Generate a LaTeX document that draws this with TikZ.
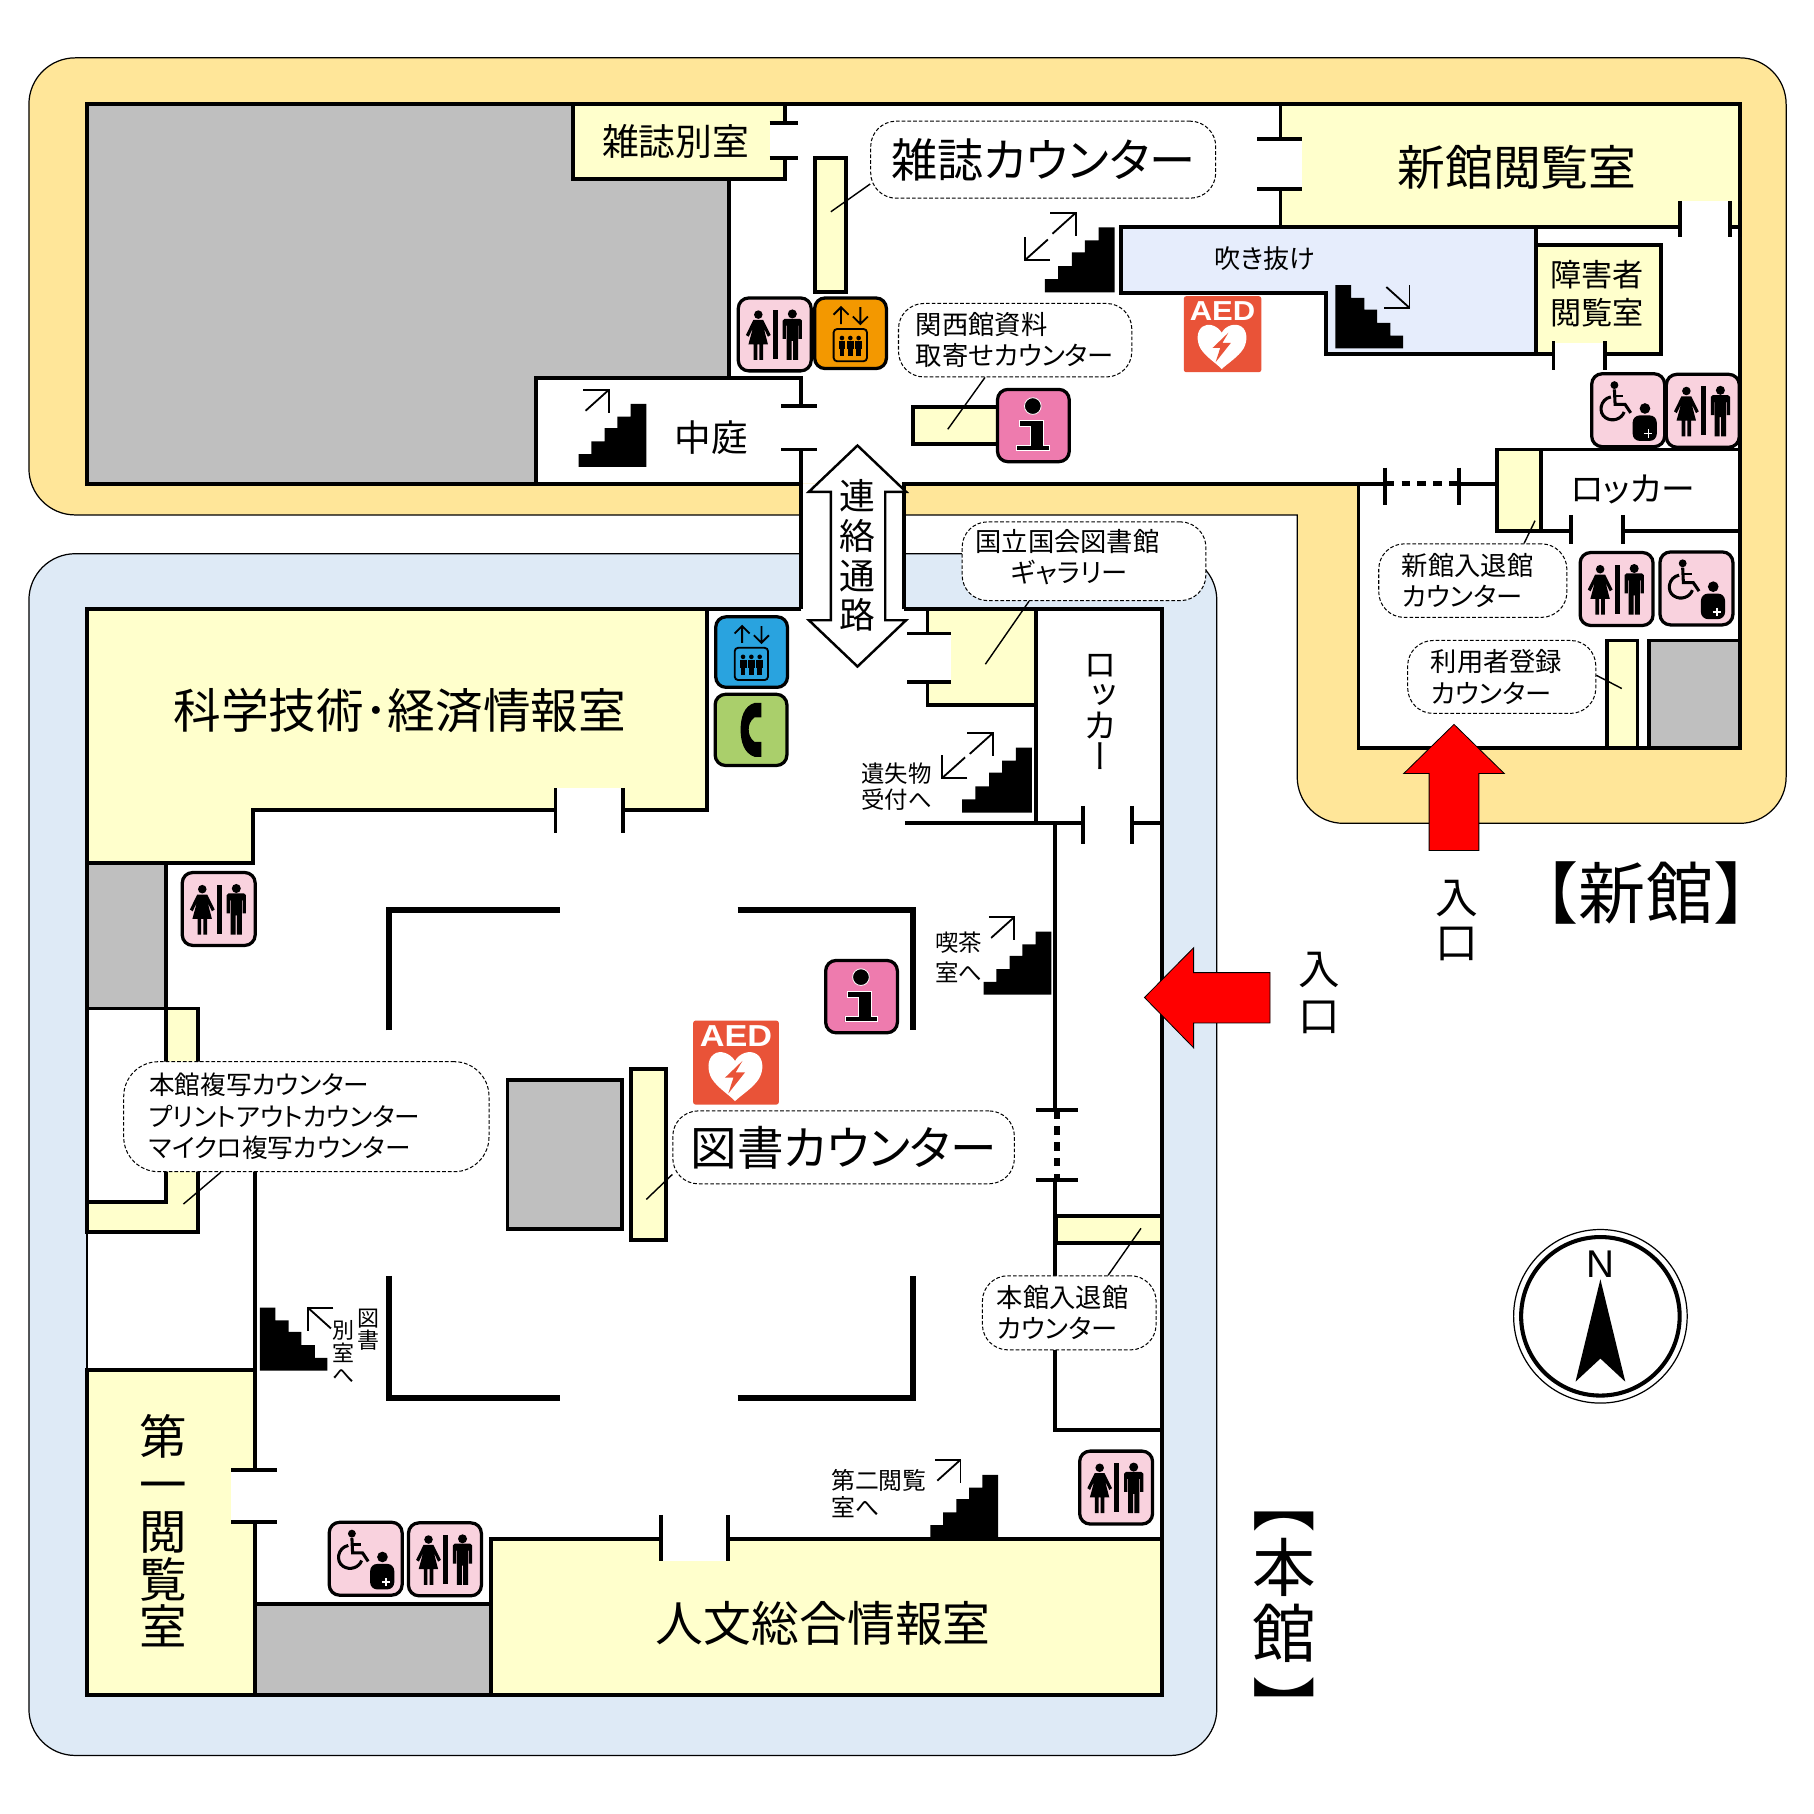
\documentclass[tikz,border=0pt]{standalone}
\usepackage{fontspec}
\setmainfont[RawFeature=+palt]{Noto Sans CJK JP}
\newfontfamily\vertfont[RawFeature=+vert]{Noto Sans CJK JP}
\newfontfamily\plainfont{Noto Sans CJK JP}
\newfontfamily\latfont{Liberation Sans}
\newcommand{\fsz}[2]{\fontsize{#1}{#2}\selectfont}
\definecolor{newbg}{HTML}{FFE699}
\definecolor{mainbg}{HTML}{DEEAF6}
\definecolor{roomyellow}{HTML}{FFFFCC}
\definecolor{blockgray}{HTML}{BFBFBF}
\definecolor{voidblue}{HTML}{E6EDFC}
\definecolor{wcpink}{HTML}{F9D2DE}
\definecolor{infopink}{HTML}{EE7BAE}
\definecolor{liftorange}{HTML}{F39800}
\definecolor{liftblue}{HTML}{29A3DF}
\definecolor{phonegreen}{HTML}{AACF6B}
\definecolor{aedred}{HTML}{E95338}
\tikzset{
    bgline/.style={draw=black, line width=0.3pt},
    wall/.style={line width=0.95pt, line join=miter},
    thinwall/.style={line width=0.45pt},
    hallwall/.style={line width=1.4pt, line join=miter},
    room/.style={draw, line width=0.95pt, fill=roomyellow},
    gone/.style={line width=1.3pt, dash pattern=on 2.1pt off 1.8pt},
    thinarrow/.style={line width=0.45pt},
    note/.style={draw, fill=white, line width=0.25pt, dash pattern=on 0.9pt off 0.5pt, rounded corners=0.22cm, inner ysep=0pt},
    leader/.style={line width=0.35pt},
    lbl/.style={inner sep=0pt},
    iconbox/.style={draw, line width=0.8pt, rounded corners=0.09cm},
    redarrow/.style={draw=black, line width=0.2pt, fill=red},
    pics/stairsicon/.style={code={
        \fill (0,54.5) -- (0,43.5) -- (11,43.5) -- (11,32.5) -- (22.5,32.5) -- (22.5,21) -- (33.5,21) -- (33.5,11) -- (45,11) -- (45,0) -- (58.5,0) -- (58.5,54.5) -- cycle;
    }},
    pics/goarrow/.style={code={
        \draw[thinarrow] (-22,0) -- (0,0) -- (0,20);
        \draw[thinarrow] (-20,18) -- (0,0);
    }},
    pics/wcicon/.style={code={
        \draw[iconbox, fill=wcpink] (0,0) rectangle (63,63);
        \fill (17.3,14.4) circle[radius=3.7];
        \fill (13,19) -- (21.5,19) -- (28,32) -- (25.6,33.5) -- (22,26) -- (25.6,40) -- (21.4,40) -- (21.4,53.6) -- (18.2,53.6) -- (18.2,40) -- (16.4,40) -- (16.4,53.6) -- (13.2,53.6) -- (13.2,40) -- (8.8,40) -- (12.6,26) -- (9,33.5) -- (6.6,32) -- cycle;
        \fill (30,10.4) rectangle (34,52.8);
        \fill (46.7,13.8) circle[radius=3.9];
        \fill (40,18) -- (53.3,18) -- (55,19.5) -- (55,35.3) -- (52.2,35.3) -- (52.2,24) -- (51.6,24) -- (51.6,53.6) -- (47.3,53.6) -- (47.3,37) -- (46.1,37) -- (46.1,53.6) -- (41.8,53.6) -- (41.8,24) -- (41.2,24) -- (41.2,35.3) -- (38.4,35.3) -- (38.4,19.5) -- cycle;
    }},
    pics/accessicon/.style={code={
        \draw[iconbox, fill=wcpink] (0,0) rectangle (63,63);
        \fill (19.6,9.8) circle[radius=3.4];
        \draw[line width=0.75pt] (19.6,13.5) -- (20.2,26.5) -- (28.8,26.5) -- (33.7,33.8);
        \draw[line width=0.6pt] (19.6,19.2) -- (27.4,19.2);
        \draw[line width=0.75pt] (16.5,20) .. controls (7,22) and (5.5,34) .. (12,38) .. controls (18,42) and (26,39) .. (28,33);
        \fill (46,30) circle[radius=4.6];
        \fill[rounded corners=0.06cm] (35.4,58) -- (35.4,36) -- (56.2,36) -- (56.2,58) -- cycle;
        \draw[white, line width=0.45pt] (45.5,51.6) -- (52.5,51.6) (49,48.1) -- (49,55.1);
    }},
    pics/lifticon/.style={code={
        \draw[iconbox, fill=#1] (0,0) rectangle (62,61);
        \draw[thinarrow] (22.8,22.5) -- (22.8,8) (16.3,14.5) -- (22.8,8) -- (29.3,14.5);
        \draw[thinarrow] (39.5,8) -- (39.5,22.5) (33,16) -- (39.5,22.5) -- (46,16);
        \draw[thinarrow, rounded corners=0.03cm] (16.4,26.8) rectangle (45.2,54.7);
        \foreach \px in {23.6,30.8,38} {
            \fill (\px,34.6) circle[radius=2];
            \fill (\px-3,37) rectangle (\px+3,44);
            \fill (\px-2,44) rectangle (\px+2,50);
        }
    }},
    pics/infoicon/.style={code={
        \draw[iconbox, fill=infopink] (0,0) rectangle (62,62.5);
        \draw[white, line width=0.2pt, fill=black] (30.5,14.4) circle[radius=7.2];
        \draw[white, line width=0.2pt, fill=black] (19,26.5) -- (39.3,26.5) -- (39.3,48.2) -- (45,48.2) -- (45,53) -- (16.7,53) -- (16.7,48.2) -- (28.4,48.2) -- (28.4,32) -- (19,32) -- cycle;
    }},
    pics/phoneicon/.style={code={
        \draw[iconbox, fill=phonegreen] (0,0) rectangle (62,61.5);
        \fill (34,7.5) .. controls (25,10) and (22,20) .. (22,30.5) .. controls (22,41) and (25,51) .. (34,54) -- (40,54) -- (40,41) -- (34,41) .. controls (30,38) and (29,34) .. (29,30.5) .. controls (29,27) and (30,23) .. (34,20) -- (40,20) -- (40,7.5) -- cycle;
    }},
    pics/aedicon/.style={code={
        \fill[aedred, rounded corners=0.02cm] (0,0) rectangle (74,72.5);
        \node (-aedtext) [lbl, transform shape, xscale=1.13, text=white, font={\latfont\bfseries\fsz{7.45}{8}}] at (37,13.7) {AED};
        \fill[white] (36.2,34.8) .. controls (32,28) and (23,25) .. (18,29) .. controls (12,33) and (12,43) .. (16,50) .. controls (21,58) and (31,64) .. (36.2,69.5) .. controls (42,64) and (52,58) .. (57,50) .. controls (61,43) and (61,33) .. (55,29) .. controls (49,25) and (40,28) .. (36.2,34.8) -- cycle;
        \fill[aedred] (42.6,34.8) -- (27.5,49.3) -- (34.8,49.3) -- (30.4,62.9) -- (44.9,44.6) -- (36.8,44.6) -- cycle;
    }},
}

\begin{document}
\begin{tikzpicture}[x=0.01cm, y=-0.01cm]
            \useasboundingbox (0,0) rectangle (1567.6,1567.6);
            \fill[white] (0,0) rectangle (1567.6,1567.6);

            \path[bgline, fill=newbg] (500,445) [rounded corners=0.4cm] -- (25,445) -- (25,50) -- (1543.5,50) -- (1543.5,711.5) -- (1121,711.5) -- (1121,600) [sharp corners] -- (1121,445) -- cycle;
            \draw[bgline, fill=mainbg, rounded corners=0.4cm] (25,478.5) rectangle (1051.5,1517);

            \fill[white] (75,90) -- (1504,90) -- (1504,646.5) -- (1174,646.5) -- (1174,418) -- (75,418) -- cycle;
            \fill[white] (692.5,418) rectangle (781,526.5);
            \fill[white] (75,526.5) rectangle (1004.5,1465);

            \fill[blockgray] (75,90) -- (495,90) -- (495,155) -- (630,155) -- (630,326.5) -- (463,326.5) -- (463,418) -- (75,418) -- cycle;
            \draw[wall, fill=blockgray] (1425,553.5) rectangle (1504,646.5);
            \fill[blockgray] (75,746) rectangle (143.5,871.5);
            \fill[blockgray] (220.5,1386) rectangle (424,1465);

            \draw[room] (495,90) rectangle (678,155);
            \draw[room] (1106.5,90) rectangle (1504,196);
            \draw[room] (1327.5,212) rectangle (1435.5,306);
            \draw[room] (704,136.5) rectangle (731,252.5);
            \draw[room] (789,351.5) rectangle (862,384);
            \draw[room] (1294,388.5) rectangle (1331.5,459);
            \draw[room] (1389,553.5) rectangle (1415,646.5);
            \draw[room] (801.5,526.5) rectangle (895,609);
            \draw[room] (75,526.5) -- (611,526.5) -- (611,700) -- (219,700) -- (219,746) -- (75,746) -- cycle;
            \draw[room] (75,871.5) -- (171,871.5) -- (171,1065) -- (75,1065) -- cycle;
            \draw[wall, fill=white] (75,871.5) rectangle (143.5,1039);
            \draw[room] (75,1184) rectangle (220.5,1465);
            \draw[room] (424,1330) rectangle (1004.5,1465);
            \draw[room] (912.5,1050.5) rectangle (1004.5,1074);
            \draw[room] (545,924) rectangle (575.5,1071.5);
            \draw[wall, fill=blockgray] (438.5,933) rectangle (537.5,1062);
            \draw[wall, fill=voidblue] (969,196) -- (1327,196) -- (1327,306) -- (1146,306) -- (1146,253) -- (969,253) -- cycle;

            \draw[wall] (692.5,351) -- (692.5,326.5) -- (463,326.5) -- (463,418);
            \draw[wall] (692.5,388.5) -- (692.5,526.5);
            \draw[wall] (630,155) -- (630,326.5);
            \draw[wall] (692.5,418) -- (75,418) -- (75,90) -- (1504,90) -- (1504,646.5) -- (1174,646.5) -- (1174,418);
            \draw[wall] (781,526.5) -- (781,418) -- (1196.5,418);
            \draw[wall] (1260.5,418) -- (1294,418);
            \draw[gone] (1197.5,418) -- (1260,418);
            \draw[wall] (1331.5,388.5) -- (1504,388.5);
            \draw[wall] (1331.5,458.5) -- (1504,458.5);
            \draw[wall] (692.5,526.5) -- (75,526.5) -- (75,1065);
            \draw[thinwall] (75,1065) -- (75,1184);
            \draw[wall] (75,1184) -- (75,1465) -- (1004.5,1465) -- (1004.5,526.5) -- (781,526.5);
            \draw[wall] (143.5,746) -- (143.5,871.5);
            \draw[wall] (220.5,1000) -- (220.5,1184);
            \draw[wall] (220.5,1386) -- (424,1386);
            \draw[wall] (895,526.5) -- (895,711.5);
            \draw[wall] (782,711.5) -- (1004.5,711.5);
            \draw[wall] (912,711.5) -- (912,959);
            \draw[wall] (912,1020) -- (912,1235.5) -- (1004.5,1235.5);
            \draw[gone] (913.5,959.5) -- (913.5,1020);

            \fill[white] (665,107.5) rectangle (680,135.5);
            \fill[white] (1105,121.5) rectangle (1125.5,161.5);
            \fill[white] (1452.5,173.5) rectangle (1494,198);
            \fill[white] (1343.5,296) rectangle (1386,308);
            \fill[white] (800,549) rectangle (821.5,587.5);
            \fill[white] (200,1271.5) rectangle (222,1314);
            \fill[white] (481,681) rectangle (537.5,702);
            \fill[white] (572,1328) rectangle (628,1349);
            \fill[white] (1358.5,456) rectangle (1401.5,461);
            \fill[white] (937,709) rectangle (977,714);

            \foreach \xa/\xb/\yy in {665/690/106.5, 665/690/136.5, 675/706/351, 675/706/388.5, 1086.5/1125.5/120, 1086.5/1125.5/163, 784/821.5/547.5, 784/821.5/589, 200/239/1270, 200/239/1315.5, 895/931.5/959, 895/931.5/1020}
                \draw[wall] (\xa,\yy) -- (\xb,\yy);
            \foreach \xx/\ya/\yb in {1451.5/173.5/205, 1495/173.5/205, 1342.5/295/320, 1387/295/320, 1196.5/404/436, 1260.5/404/436, 1357.5/445/470, 1402.5/445/470, 936/696.5/729, 978/696.5/729, 480/681/720, 538.5/681/720, 571/1309/1349, 629/1309/1349}
                \draw[wall] (\xx,\ya) -- (\xx,\yb);

            \draw[hallwall] (336,890.5) -- (336,786.5) -- (484,786.5);
            \draw[hallwall] (637.5,786.5) -- (789,786.5) -- (789,890.5);
            \draw[hallwall] (336,1102.5) -- (336,1208) -- (484,1208);
            \draw[hallwall] (637.5,1208) -- (789,1208) -- (789,1102.5);

            \pic at (500,349) {stairsicon};
            \pic at (526,337) {goarrow};
            \pic[scale=1.03] at (903,196.5) {stairsicon};
            \pic at (929.5,184) {goarrow};
            \pic[xscale=-1, yscale=-1] at (885.5,225) {goarrow};
            \pic[xscale=-1] at (1212.5,246.5) {stairsicon};
            \pic[yscale=-1] at (1218,266) {goarrow};
            \pic[scale=1.03] at (831.5,646) {stairsicon};
            \pic at (858,633.5) {goarrow};
            \pic[xscale=-1, yscale=-1] at (814,672.5) {goarrow};
            \pic at (850,805) {stairsicon};
            \pic at (876.5,792.5) {goarrow};
            \pic at (804,1274.5) {stairsicon};
            \pic at (830,1261.5) {goarrow};
            \pic[xscale=-1] at (283,1130) {stairsicon};
            \pic[xscale=-1] at (266,1130) {goarrow};

            \foreach \ix/\iy in {638/257.5, 1440/323.5, 1365.5/477.5, 157.5/754, 353/1316, 933/1254}
                \pic at (\ix,\iy) {wcicon};
            \foreach \ix/\iy in {1375.5/323, 1434.5/477, 284.5/1315.5}
                \pic at (\ix,\iy) {accessicon};
            \pic at (704,257.5) {lifticon=liftorange};
            \pic at (618.5,533) {lifticon=liftblue};
            \pic at (618,600) {phoneicon};
            \pic at (862,336.5) {infoicon};
            \pic at (713.5,830) {infoicon};
            \pic (aednew) [scale=0.905] at (1023,256) {aedicon};
            \pic (aedmain) at (599,882) {aedicon};

            \node (magroom) [lbl, font=\fsz{9.05}{11}] at (584,122.5) {雑誌別室};
            \node (court) [lbl, font=\fsz{9}{10}] at (614.5,378) {中庭};
            \node (newread) [lbl, font=\fsz{11.75}{14}] at (1311,145) {新館閲覧室};
            \node (void) [lbl, font=\fsz{6.4}{8}] at (1093,223.5) {吹き抜け};
            \node (access) [lbl, align=left, font=\fsz{7.65}{9.35}] at (1380,253.5) {障害者\\閲覧室};
            \node (locknew) [lbl, font=\fsz{8.3}{9}] at (1411,423) {ロッカー};
            \node (scitech) [lbl, font=\fsz{11.7}{14}] at (345.5,614) {科学技術･経済情報室};
            \node (human) [lbl, font=\fsz{11.75}{14}] at (711.5,1403) {人文総合情報室};
            \node (firstread) [lbl, align=center, font={\vertfont\fsz{11.66}{11.66}}] at (141,1323) {第\\一\\閲\\覧\\室};
            \node (lockmain) [lbl, align=center, font={\vertfont\fsz{8.4}{7.5}}] at (951,615) {ロ\\ッ\\カ\\ー};
            \node (lostgo) [lbl, align=left, font=\fsz{5.75}{6.5}] at (775,680) {遺失物\\受付へ};
            \node (teago) [lbl, align=left, font=\fsz{5.75}{7.3}] at (828.5,827) {喫茶\\室へ};
            \node (secondgo) [lbl, align=left, font=\fsz{5.85}{6.6}] at (759.5,1291) {第二閲覧\\室へ};
            \node (bookgoa) [lbl, align=center, font={\vertfont\fsz{5.4}{5.4}}] at (318,1149) {図\\書};
            \node (bookgob) [lbl, align=center, font={\vertfont\fsz{5.4}{5.6}}] at (297,1168.5) {別\\室\\へ};

            \draw[line width=0.6pt, fill=white] (741,385) -- (783,425) -- (765,425) -- (765,536) -- (783,536) -- (741,576) -- (699,536) -- (718,536) -- (718,425) -- (699,425) -- cycle;
            \node (linkway) [lbl, align=center, font={\vertfont\fsz{8.8}{9.8}}] at (741,480) {連\\絡\\通\\路};

            \node (magdesk) [note, minimum width=2.98cm, minimum height=0.665cm, font=\fsz{11.35}{12}] at (901.5,138) {雑誌カウンター};
            \node (kansai) [note, minimum width=2.015cm, minimum height=0.635cm, text width=1.715cm, inner xsep=0.15cm, align=left, font=\fsz{6.46}{7.68}] at (877.25,294) {関西館資料\\取寄せカウンター};
            \node (gallery) [note, minimum width=2.105cm, minimum height=0.68cm, text width=1.875cm, inner xsep=0.115cm, align=left, font=\fsz{6.46}{7.68}] at (936.75,485) {国立国会図書館\\\hspace*{0.31cm}ギャラリー\rule[-0.095cm]{0pt}{0pt}};
            \node (newgate) [note, minimum width=1.625cm, minimum height=0.635cm, text width=1.225cm, inner xsep=0.2cm, align=left, font=\fsz{6.46}{7.68}] at (1272.75,501.75) {新館入退館\\カウンター};
            \node (register) [note, minimum width=1.625cm, minimum height=0.63cm, text width=1.225cm, inner xsep=0.2cm, align=left, font=\fsz{6.46}{7.68}] at (1297.75,585) {利用者登録\\カウンター};
            \node (copydesk) [note, rounded corners=0.3cm, minimum width=3.155cm, minimum height=0.95cm, text width=2.715cm, inner xsep=0.22cm, align=left, font=\fsz{6.3}{7.75}] at (264.75,965) {本館複写カウンター\\プリントアウトカウンター\\マイクロ複写カウンター};
            \node (bookdesk) [note, minimum width=2.95cm, minimum height=0.63cm, font=\fsz{11.45}{12}] at (729,991.5) {図書カウンター};
            \node (maingate) [note, minimum width=1.5cm, minimum height=0.64cm, text width=1.25cm, inner xsep=0.125cm, align=left, font=\fsz{6.46}{7.68}] at (924,1134.5) {本館入退館\\カウンター};

            \coordinate (magend) at (718,183);
            \coordinate (kansaiend) at (819,371);
            \coordinate (galleryend) at (851.5,574);
            \coordinate (newgateend) at (1326.5,450);
            \coordinate (registerend) at (1401.5,595);
            \coordinate (copyend) at (158.5,1040.5);
            \coordinate (bookend) at (558.5,1036.5);
            \coordinate (maingateend) at (986,1061.5);
            \draw[leader] (magdesk.188.6) -- (magend);
            \draw[leader] (kansai.231.2) -- (kansaiend);
            \draw[leader] (gallery.216) -- (galleryend);
            \draw[leader] (newgate.36.6) -- (newgateend);
            \draw[leader] (register.1.8) -- (registerend);
            \draw[leader] (copydesk.213.3) -- (copyend);
            \draw[leader] (bookdesk.189.1) -- (bookend);
            \draw[leader] (maingate.44.6) -- (maingateend);

            \draw[redarrow] (1256.5,626) -- (1300,668.5) -- (1278,668.5) -- (1278,735) -- (1235,735) -- (1235,668.5) -- (1213,668.5) -- cycle;
            \draw[redarrow] (989,862) -- (1031.5,819) -- (1031.5,840.5) -- (1097.5,840.5) -- (1097.5,884) -- (1031.5,884) -- (1031.5,905.5) -- cycle;
            \node (newentry) [lbl, align=center, font={\vertfont\fsz{10.5}{11.1}}] at (1259,795.5) {入\\口};
            \node (mainentry) [lbl, align=center, font={\vertfont\fsz{10.2}{11.66}}] at (1140,858) {入\\口};
            \node (newname) [lbl, font={\plainfont\fsz{16.5}{18}}] at (1422.5,772) {【新館】};
            \node (mainname) [lbl, align=center, font={\vertfont\fsz{15.6}{16.2}}] at (1110,1401.5) {【\\本\\館\\[0.07cm]】};

            \draw[line width=0.3pt] (1383,1137.5) circle[radius=75];
            \draw[line width=1pt] (1383,1137.5) circle[radius=68.5];
            \fill (1383,1105.5) -- (1404.5,1194) -- (1383,1174) -- (1361.5,1194) -- cycle;
            \node (north) [lbl, font={\latfont\fsz{9.5}{11}}] at (1383,1092.5) {N};
        \end{tikzpicture}
\end{document}
